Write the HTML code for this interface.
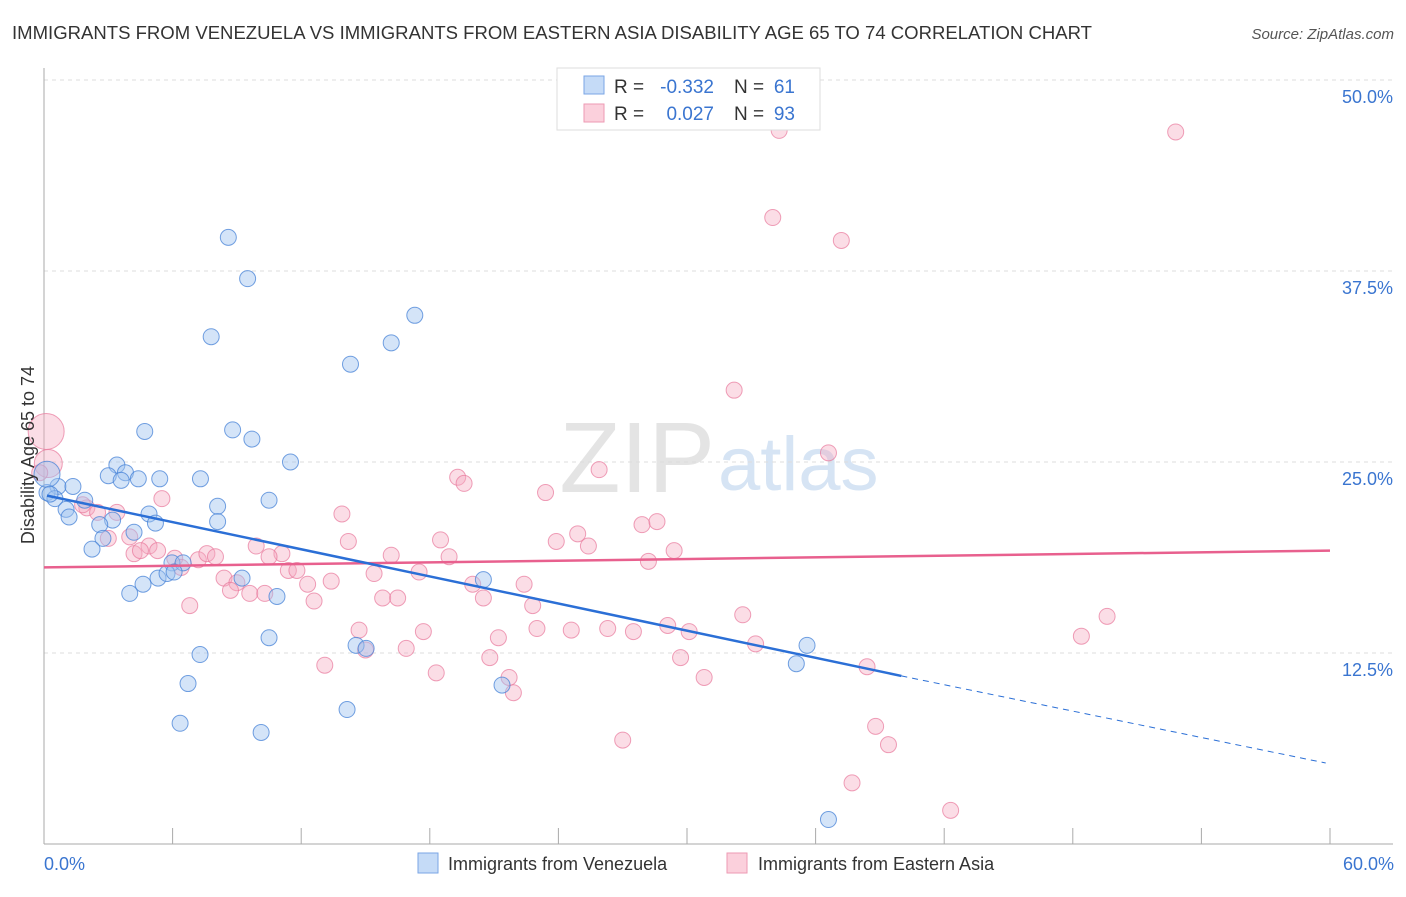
<!DOCTYPE html>
<html><head><meta charset="utf-8"><style>
body{margin:0;background:#fff;font-family:"Liberation Sans",sans-serif;}
svg text{font-family:"Liberation Sans",sans-serif;}
</style></head><body>
<svg id="c" width="1406" height="892" xmlns="http://www.w3.org/2000/svg">
<text x="12" y="39" font-size="18" fill="#333" textLength="1080" lengthAdjust="spacingAndGlyphs">IMMIGRANTS FROM VENEZUELA VS IMMIGRANTS FROM EASTERN ASIA DISABILITY AGE 65 TO 74 CORRELATION CHART</text>
<text x="1394" y="39" font-size="15" fill="#555" font-style="italic" text-anchor="end">Source: ZipAtlas.com</text>
<text x="715" y="492" font-size="100" fill="#e4e4e4" text-anchor="end" font-family="Liberation Serif">ZIP</text>
<text x="718" y="490" font-size="76" fill="#d6e4f4">atlas</text>
<g id="grid"></g>
<g id="pts"></g>
<g id="lines"></g>
<text transform="translate(34,455) rotate(-90)" font-size="18" fill="#333" text-anchor="middle">Disability Age 65 to 74</text>
<text x="44" y="870" font-size="18" fill="#3a75d0">0.0%</text>
<text x="1394" y="870" font-size="18" fill="#3a75d0" text-anchor="end">60.0%</text>
<g>
<rect x="557" y="68" width="263" height="62" fill="#fff" stroke="#ddd"/>
<rect x="584" y="76" width="20" height="18" fill="#c5dbf7" stroke="#7aa6e6"/>
<rect x="584" y="104" width="20" height="18" fill="#fbd0dc" stroke="#ee9ab3"/>
<text x="614" y="93" font-size="19" fill="#333">R =</text>
<text x="714" y="93" font-size="19" fill="#3a75d0" text-anchor="end">-0.332</text>
<text x="734" y="93" font-size="19" fill="#333">N =</text>
<text x="795" y="93" font-size="19" fill="#3a75d0" text-anchor="end">61</text>
<text x="614" y="120" font-size="19" fill="#333">R =</text>
<text x="714" y="120" font-size="19" fill="#3a75d0" text-anchor="end">0.027</text>
<text x="734" y="120" font-size="19" fill="#333">N =</text>
<text x="795" y="120" font-size="19" fill="#3a75d0" text-anchor="end">93</text>
</g>
<g>
<rect x="418" y="853" width="20" height="20" fill="#c5dbf7" stroke="#7aa6e6"/>
<text x="448" y="870" font-size="18" fill="#333">Immigrants from Venezuela</text>
<rect x="727" y="853" width="20" height="20" fill="#fbd0dc" stroke="#ee9ab3"/>
<text x="758" y="870" font-size="18" fill="#333">Immigrants from Eastern Asia</text>
</g>
</svg>
<script>
const yTicks=[12.5,25,37.5,50];
const xTicks=[0,6,12,18,24,30,36,42,48,54,60];
const blueX=[8.6,9.5,7.8,17.3,16.2,14.3,8.8,9.7,4.7,11.5,3.4,3.0,3.8,4.4,3.6,5.4,7.3,0.65,1.35,0.14,0.51,1.9,1.03,1.17,4.9,10.5,8.1,3.2,2.6,5.2,4.2,8.1,2.75,2.24,5.97,6.49,5.32,5.74,6.07,9.24,4.62,4.0,10.87,20.5,10.5,7.28,14.56,15.03,35.6,35.1,6.72,21.37,14.14,6.35,10.13,36.6,0.14,0.28];
const blueY=[39.7,37.0,33.2,34.6,32.8,31.4,27.1,26.5,27.0,25.0,24.8,24.1,24.3,23.9,23.8,23.9,23.9,23.4,23.4,23.0,22.6,22.5,21.9,21.4,21.6,22.5,22.1,21.2,20.9,21.0,20.4,21.1,20.0,19.3,18.4,18.4,17.4,17.7,17.8,17.4,17.0,16.4,16.2,17.3,13.5,12.4,13.0,12.8,13.0,11.8,10.5,10.4,8.8,7.9,7.3,1.6,24.2,22.9];
const blueR=[8,8,8,8,8,8,8,8,8,8,8,8,8,8,8,8,8,8,8,8,8,8,8,8,8,8,8,8,8,8,8,8,8,8,8,8,8,8,8,8,8,8,8,8,8,8,8,8,8,8,8,8,8,8,8,8,13,8];
const pinkX=[52.8,34.3,34.0,37.2,32.2,36.6,25.9,19.3,19.6,23.4,5.5,3.4,2.0,1.8,2.5,13.9,27.9,28.6,24.9,23.9,25.4,18.5,14.2,4.0,3.0,4.9,5.3,4.2,4.5,9.9,11.1,16.2,18.9,29.4,28.2,6.1,7.2,7.6,8.0,10.5,11.4,11.8,15.4,17.5,6.4,8.4,9.0,8.7,9.6,10.3,13.4,12.3,20.0,22.4,20.5,15.8,16.5,12.6,6.8,22.8,32.6,49.6,48.4,14.7,17.7,21.2,23.0,24.6,26.3,27.5,29.1,30.1,33.2,16.9,15.0,13.1,18.3,20.8,29.7,38.4,30.8,21.7,21.9,38.8,39.4,27.0,37.7,42.3,0.1,0.2,-0.2];
const pinkY=[46.6,46.7,41.0,39.5,29.7,25.6,24.5,24.0,23.6,23.0,22.6,21.7,22.0,22.2,21.7,21.6,20.9,21.1,20.3,19.8,19.5,19.9,19.8,20.1,20.0,19.5,19.2,19.0,19.2,19.5,19.0,18.9,18.8,19.2,18.5,18.7,18.6,19.0,18.8,18.8,17.9,17.9,17.7,17.8,18.1,17.4,17.1,16.6,16.4,16.4,17.2,17.0,17.0,17.0,16.1,16.1,16.1,15.9,15.6,15.6,15.0,14.9,13.6,14.0,13.9,13.5,14.1,14.0,14.1,13.9,14.3,13.9,13.1,12.8,12.7,11.7,11.2,12.2,12.2,11.6,10.9,10.9,9.9,7.7,6.5,6.8,4.0,2.2,27.0,24.9,24.3];
const pinkR=[8,8,8,8,8,8,8,8,8,8,8,8,8,8,8,8,8,8,8,8,8,8,8,8,8,8,8,8,8,8,8,8,8,8,8,8,8,8,8,8,8,8,8,8,8,8,8,8,8,8,8,8,8,8,8,8,8,8,8,8,8,8,8,8,8,8,8,8,8,8,8,8,8,8,8,8,8,8,8,8,8,8,8,8,8,8,8,8,18,14,8];
const blueTrend=[22.8,11.0,5.3];
const blueTrendX=[0.14,40,59.8];
const pinkTrend=[18.1,19.2];
const X=v=>44+v*(1286/60);
const Y=v=>844-v*(191/12.5);
const NS="http://www.w3.org/2000/svg";
function mk(t,a,p){const e=document.createElementNS(NS,t);for(const k in a)e.setAttribute(k,a[k]);p.appendChild(e);return e;}
const g=document.getElementById('grid');
yTicks.forEach(t=>{
 const l=mk('line',{x1:44,x2:1393,y1:Y(t),y2:Y(t),stroke:'#ddd','stroke-dasharray':'4,4'},g);
 
 
 const tx=mk('text',{x:1393,y:Y(t)+23,'font-size':18,fill:'#3a75d0','text-anchor':'end'},g);
 tx.textContent=t.toFixed(1)+'%';
 
 
});
const ax=mk('line',{x1:44,x2:44,y1:68,y2:844,stroke:'#aaa'},g);


const bx=mk('line',{x1:44,x2:1393,y1:844,y2:844,stroke:'#aaa'},g);


xTicks.forEach(t=>{
 const l=mk('line',{x1:X(t),x2:X(t),y1:828,y2:844,stroke:'#aaa'},g);
 
 
});
const pg=document.getElementById('pts');
pinkX.forEach((v,i)=>{
 const c=mk('circle',{cx:X(v),cy:Y(pinkY[i]),r:pinkR[i],fill:'rgba(246,170,192,0.4)',stroke:'rgba(232,120,155,0.7)','stroke-width':1},pg);
 
 
});
blueX.forEach((v,i)=>{
 const c=mk('circle',{cx:X(v),cy:Y(blueY[i]),r:blueR[i],fill:'rgba(160,196,240,0.45)',stroke:'rgba(70,130,215,0.75)','stroke-width':1},pg);
 
 
});
const lg=document.getElementById('lines');
const pl=mk('line',{x1:X(0),y1:Y(pinkTrend[0]),x2:X(60),y2:Y(pinkTrend[1]),stroke:'#e8608e','stroke-width':2.5},lg);


const b1=mk('line',{x1:X(blueTrendX[0]),y1:Y(blueTrend[0]),x2:X(blueTrendX[1]),y2:Y(blueTrend[1]),stroke:'#2b6fd6','stroke-width':2.5},lg);


const b2=mk('line',{x1:X(blueTrendX[1]),y1:Y(blueTrend[1]),x2:X(blueTrendX[2]),y2:Y(blueTrend[2]),stroke:'#2b6fd6','stroke-width':1,'stroke-dasharray':'6,5'},lg);


</script>
</body></html>
